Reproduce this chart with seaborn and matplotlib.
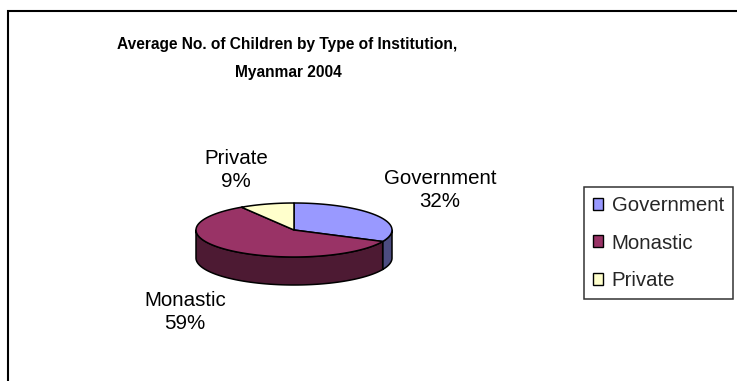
import numpy as np
import matplotlib
matplotlib.use("Agg")
import matplotlib.pyplot as plt
from matplotlib.patches import Polygon, Rectangle, Patch
import seaborn as sns

# Shares of children by type of institution (percent)
categories = ["Government", "Monastic", "Private"]
shares = [32, 59, 9]
top_colors = ["#9999FF", "#993366", "#FFFFCC"]
side_colors = ["#4C4C80", "#4D1A33", "#80805F"]
title_lines = ["Average No. of Children by Type of Institution,", "Myanmar 2004"]

sns.set_theme(style="white")
plt.rcParams["font.family"] = ["Liberation Sans", "DejaVu Sans"]

W, H = 737, 381
fig = plt.figure(figsize=(W / 100, H / 100), dpi=100)
fig.patch.set_facecolor("white")
ax = fig.add_axes([0, 0, 1, 1])

# Ellipse geometry of the tilted pie, in pixels
cx, cy, rx, ry, depth_px = 294, 230, 98, 27, 28
ax.set_xlim(-cx / rx, (W - cx) / rx)
ax.set_ylim((cy - H) / ry, cy / ry)
ax.axis("off")
depth = depth_px / ry

# Slice boundaries: start at 12 o'clock, go clockwise
fractions = np.array(shares, dtype=float) / np.sum(shares)
bounds = 90 - 360 * np.concatenate([[0], np.cumsum(fractions)])


def arc(t0, t1, n=120):
    t = np.radians(np.linspace(t0, t1, n))
    return np.cos(t), np.sin(t)


edge_kw = dict(edgecolor="black", linewidth=1.1, joinstyle="round")

# Side walls (front half only, angles between -180 and 0)
for i in range(len(shares)):
    lo, hi = bounds[i + 1], bounds[i]
    for k in (-1, 0, 1):
        a0 = max(lo, -180 + 360 * k)
        a1 = min(hi, 0 + 360 * k)
        if a1 - a0 > 1e-6:
            x, y = arc(a0, a1)
            pts = np.vstack([np.column_stack([x, y]),
                             np.column_stack([x[::-1], y[::-1] - depth])])
            ax.add_patch(Polygon(pts, closed=True, facecolor=side_colors[i], **edge_kw))

# Top surface
for i in range(len(shares)):
    x, y = arc(bounds[i + 1], bounds[i])
    pts = np.vstack([[0, 0], np.column_stack([x, y])])
    ax.add_patch(Polygon(pts, closed=True, facecolor=top_colors[i], **edge_kw))

# Data labels
label_pos = {"Government": (440, 190), "Monastic": (185, 312), "Private": (236, 170)}
for name, val in zip(categories, shares):
    px, py = label_pos[name]
    fig.text(px / W, 1 - py / H, f"{name}\n{val}%", ha="center", va="center",
             fontsize=14.8, color="black", linespacing=1.25)

# Title
fig.text(287 / W, 1 - 44 / H, title_lines[0], ha="center", va="center",
         fontsize=11.2, fontweight="bold", color="black")
fig.text(288 / W, 1 - 72 / H, title_lines[1], ha="center", va="center",
         fontsize=11.2, fontweight="bold", color="black")

# Legend
handles = [Patch(facecolor=c, edgecolor="black", linewidth=1.0) for c in top_colors]
leg = fig.legend(handles, categories, loc="upper left",
                 bbox_to_anchor=(584 / W, 1 - 187 / H), bbox_transform=fig.transFigure,
                 frameon=True, fancybox=False, edgecolor="black", fontsize=14.7,
                 handlelength=0.5, handleheight=0.5, handletextpad=0.4,
                 labelspacing=0.9, borderpad=0.45, borderaxespad=0)
leg.get_frame().set_linewidth(1.1)

# Chart-area border (extends past the right and bottom edges)
fig.add_artist(Rectangle((8 / W, -0.5), 2.0, 1.5 - 11 / H, transform=fig.transFigure,
                         fill=False, edgecolor="black", linewidth=1.5, clip_on=False))

fig.savefig("out.png", dpi=100, facecolor="white")
